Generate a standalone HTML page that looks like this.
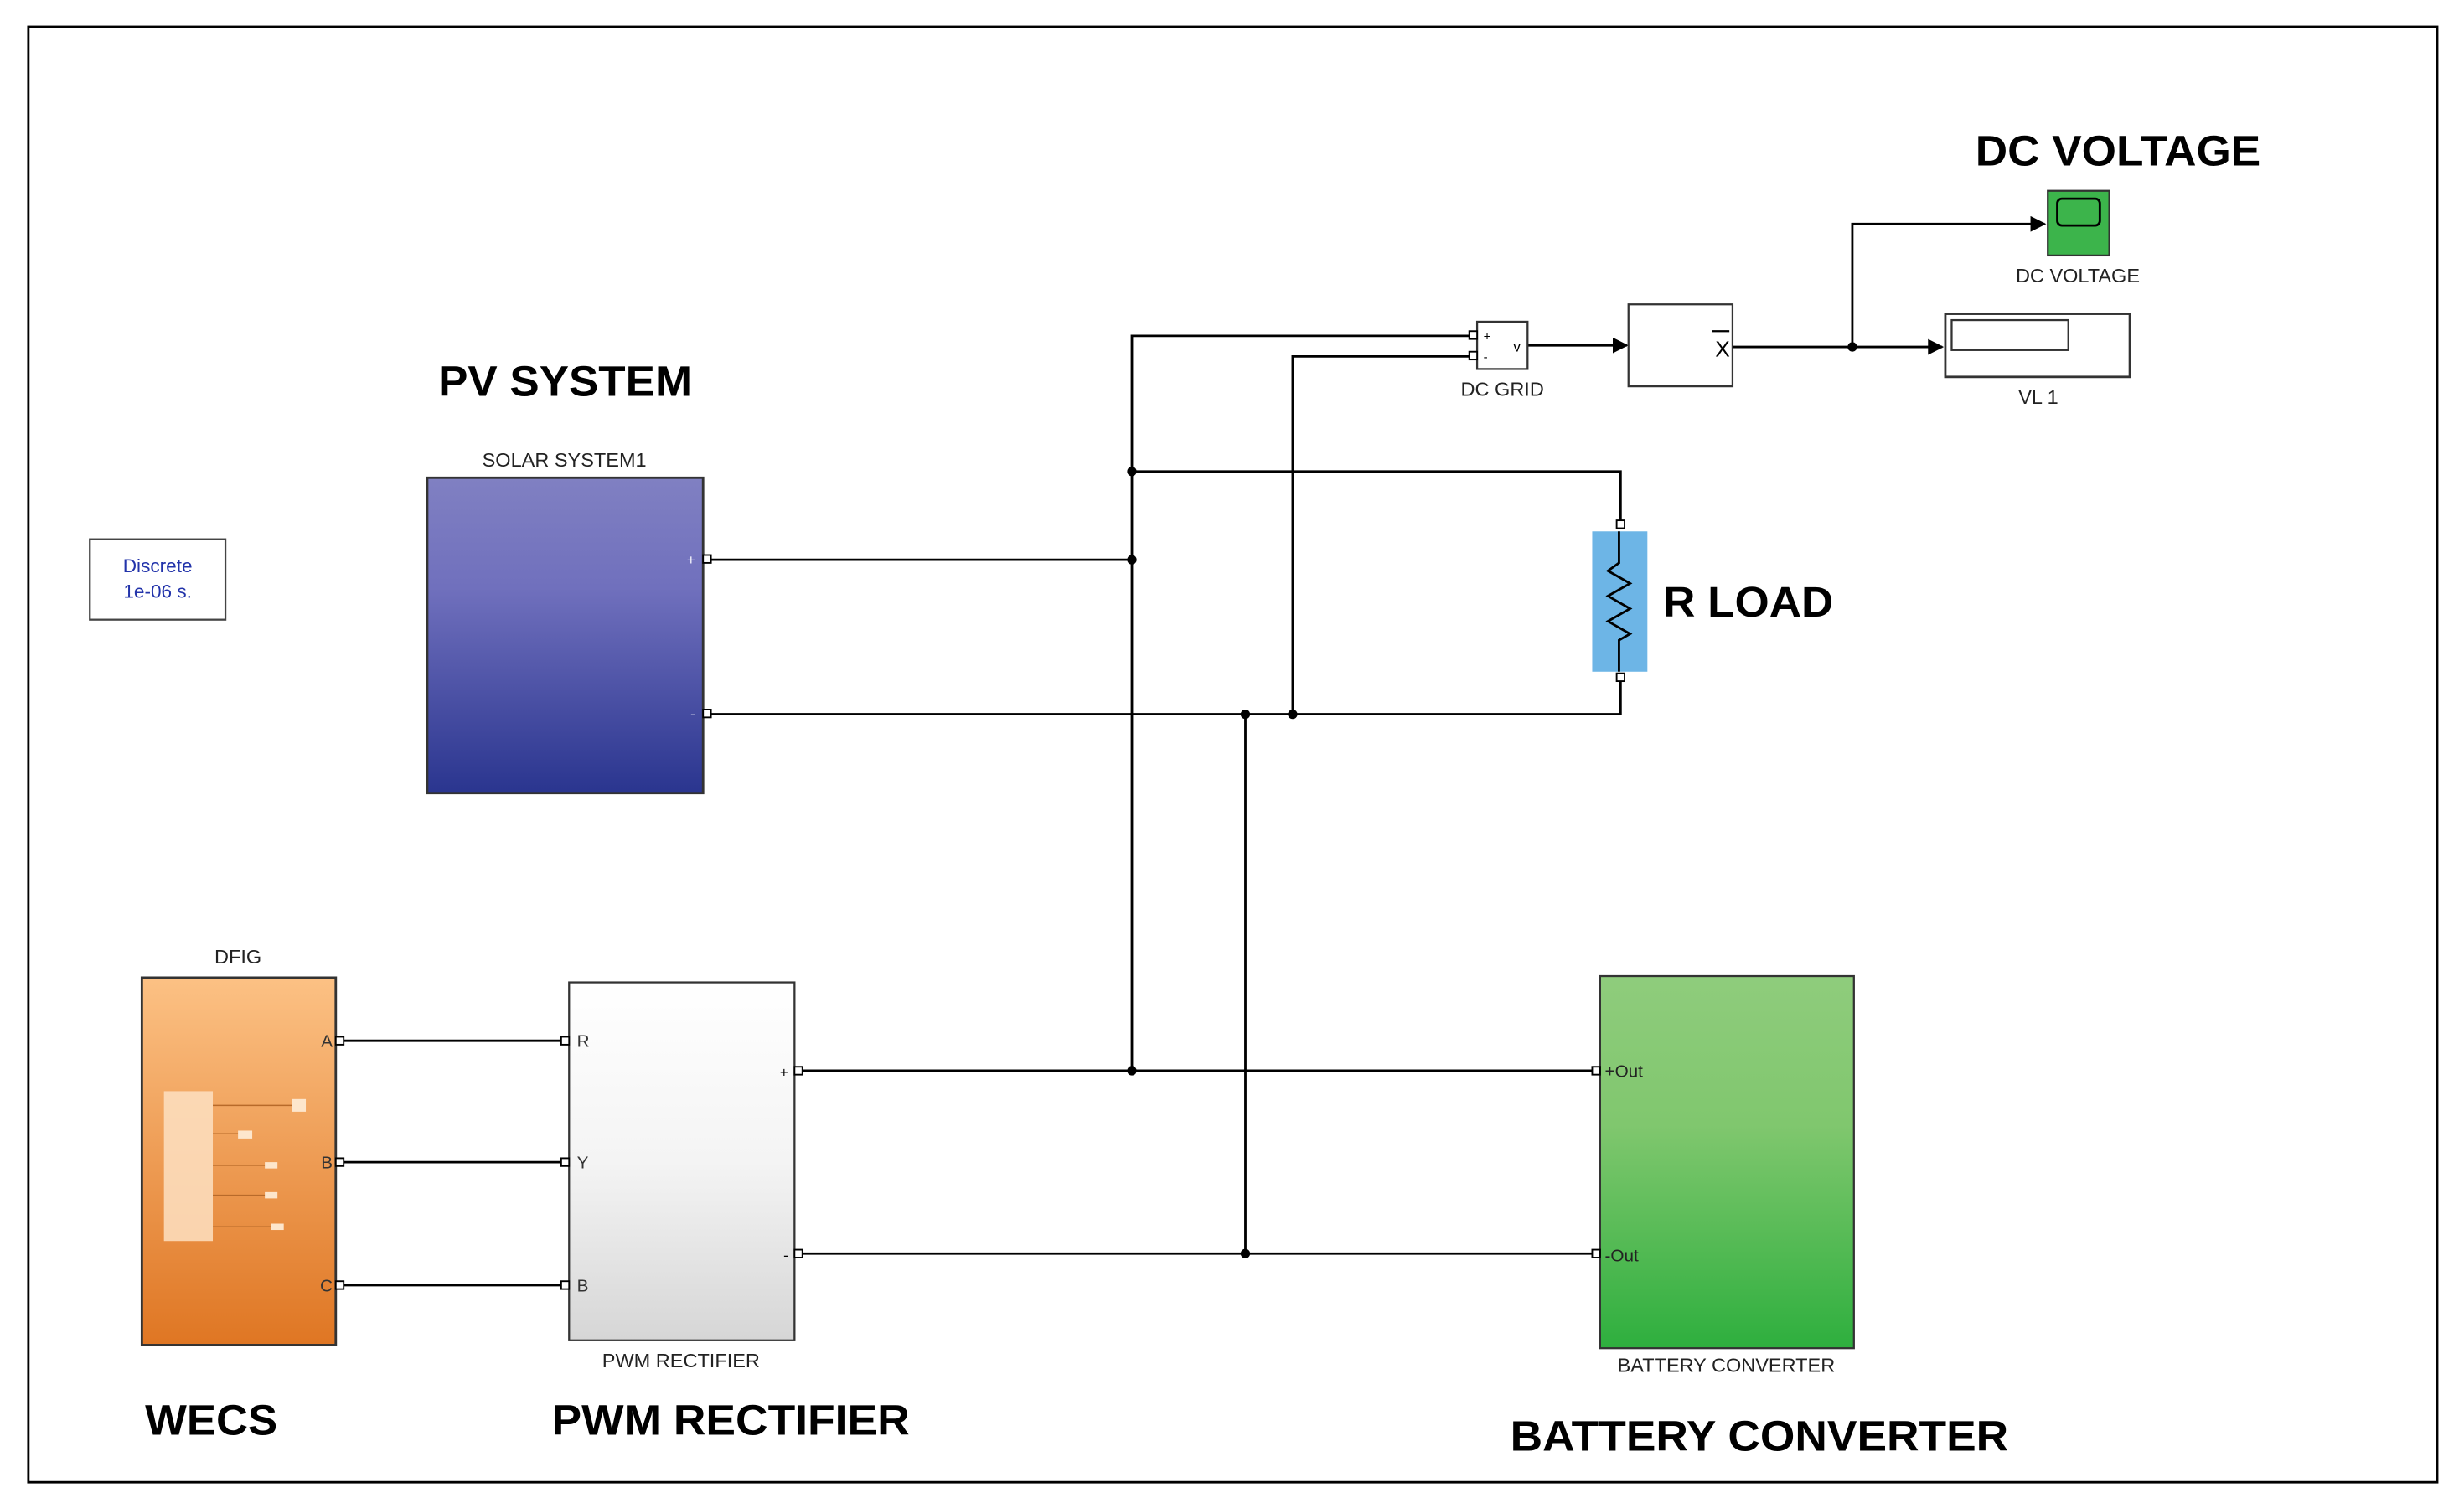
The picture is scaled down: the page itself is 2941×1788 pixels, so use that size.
<!DOCTYPE html>
<html><head><meta charset="utf-8"><style>html,body{margin:0;padding:0;background:#fff}svg{display:block}</style></head>
<body>
<svg xmlns="http://www.w3.org/2000/svg" width="2941" height="1788" viewBox="0 0 1563 950" preserveAspectRatio="none" font-family="Liberation Sans, Arial, sans-serif">
<defs>
<linearGradient id="pv" x1="0" y1="0" x2="0" y2="1"><stop offset="0" stop-color="#8080c2"/><stop offset="0.35" stop-color="#7070bd"/><stop offset="1" stop-color="#2a358f"/></linearGradient>
<linearGradient id="dfig" x1="0" y1="0" x2="0" y2="1"><stop offset="0" stop-color="#fcc184"/><stop offset="1" stop-color="#df7623"/></linearGradient>
<linearGradient id="pwm" x1="0" y1="0" x2="0" y2="1"><stop offset="0" stop-color="#ffffff"/><stop offset="0.5" stop-color="#f4f4f4"/><stop offset="1" stop-color="#d6d6d6"/></linearGradient>
<linearGradient id="bat" x1="0" y1="0" x2="0" y2="1"><stop offset="0" stop-color="#8fcc7c"/><stop offset="0.4" stop-color="#80c76e"/><stop offset="1" stop-color="#2eaf3e"/></linearGradient>
<marker id="ar" markerWidth="10" markerHeight="10" refX="9" refY="5" orient="auto" markerUnits="userSpaceOnUse"><path d="M0,0 L10,5 L0,10 z" fill="#000"/></marker>
</defs>
<rect x="18" y="17" width="1528" height="923" fill="none" stroke="#000" stroke-width="1.5"/>

<rect x="57" y="342" width="86" height="51" fill="#fff" stroke="#444" stroke-width="1.2"/>
<text x="100" y="363" font-size="12" fill="#2233aa" text-anchor="middle">Discrete</text>
<text x="100" y="379" font-size="12" fill="#2233aa" text-anchor="middle">1e-06 s.</text>

<g stroke="#000" stroke-width="1.5" fill="none">
<path d="M450,355 H718"/>
<path d="M450,453 H1028 V430"/>
<path d="M718,679 V213 H937"/>
<path d="M718,299 H1028 V333"/>
<path d="M820,453 V226 H937"/>
<path d="M790,453 V795"/>
<path d="M507,679 H1012"/>
<path d="M507,795 H1012"/>
<path d="M217,660 H358"/><path d="M217,737 H358"/><path d="M217,815 H358"/>
<path d="M969,219 H1032" marker-end="url(#ar)"/>
<path d="M1099,220 H1232" marker-end="url(#ar)"/>
<path d="M1175,220 V142 H1297" marker-end="url(#ar)"/>
</g>
<g fill="#000">
<circle cx="718" cy="299" r="3"/><circle cx="718" cy="355" r="3"/><circle cx="718" cy="679" r="3"/>
<circle cx="790" cy="453" r="3"/><circle cx="820" cy="453" r="3"/><circle cx="790" cy="795" r="3"/>
<circle cx="1175" cy="220" r="3"/>
</g>

<text x="278" y="251" font-size="27" font-weight="bold" textLength="161" lengthAdjust="spacingAndGlyphs">PV SYSTEM</text>
<text x="358" y="296" font-size="12.5" text-anchor="middle" fill="#222">SOLAR SYSTEM1</text>
<rect x="271" y="303" width="175" height="200" fill="url(#pv)" stroke="#333" stroke-width="1.5"/>
<rect x="446" y="352" width="5" height="5" fill="#fff" stroke="#000"/><rect x="446" y="450" width="5" height="5" fill="#fff" stroke="#000"/>
<text x="441" y="358" font-size="9" fill="#fff" text-anchor="end">+</text>
<text x="441" y="456" font-size="9" fill="#fff" text-anchor="end">-</text>

<rect x="1010" y="337" width="35" height="89" fill="#6db5e6"/>
<path d="M1027,337 V357 L1020,362 L1034,370 L1020,378 L1034,386 L1020,394 L1034,402 L1027,406 V426" fill="none" stroke="#000" stroke-width="1.5"/>
<rect x="1025.5" y="330" width="5" height="5" fill="#fff" stroke="#000"/><rect x="1025.5" y="427" width="5" height="5" fill="#fff" stroke="#000"/>
<text x="1055" y="391" font-size="27" font-weight="bold" textLength="108" lengthAdjust="spacingAndGlyphs">R LOAD</text>

<rect x="937" y="204" width="32" height="30" fill="#fff" stroke="#333" stroke-width="1.2"/>
<rect x="932" y="210" width="5" height="5" fill="#fff" stroke="#000"/><rect x="932" y="223" width="5" height="5" fill="#fff" stroke="#000"/>
<text x="941" y="216" font-size="8">+</text><text x="941" y="229" font-size="8">-</text>
<text x="960" y="223" font-size="9">v</text>
<text x="953" y="251" font-size="12.5" text-anchor="middle" fill="#222">DC GRID</text>

<rect x="1033" y="193" width="66" height="52" fill="#fff" stroke="#333" stroke-width="1.2"/>
<text x="1088" y="226" font-size="14">X</text><path d="M1086,210 H1097" stroke="#000" stroke-width="1.2"/>

<text x="1253" y="105" font-size="27" font-weight="bold" textLength="181" lengthAdjust="spacingAndGlyphs">DC VOLTAGE</text>
<rect x="1299" y="121" width="39" height="41" fill="#3cb44b" stroke="#333" stroke-width="1.2"/>
<rect x="1305" y="126" width="27" height="17" rx="3" fill="#3cb44b" stroke="#000" stroke-width="1.5"/>
<text x="1318" y="179" font-size="12.5" text-anchor="middle" fill="#222">DC VOLTAGE</text>

<rect x="1234" y="199" width="117" height="40" fill="#fff" stroke="#333" stroke-width="1.5"/>
<rect x="1238" y="203" width="74" height="19" fill="#fff" stroke="#333" stroke-width="1.2"/>
<text x="1293" y="256" font-size="12.5" text-anchor="middle" fill="#222">VL 1</text>

<text x="151" y="611" font-size="12.5" text-anchor="middle" fill="#222">DFIG</text>
<rect x="90" y="620" width="123" height="233" fill="url(#dfig)" stroke="#333" stroke-width="1.5"/>
<rect x="104" y="692" width="31" height="95" fill="#fde0c2" opacity="0.85"/>
<g stroke="#b86a2a" stroke-width="0.8"><path d="M135,701 H188"/><path d="M135,719 H155"/><path d="M135,739 H170"/><path d="M135,758 H170"/><path d="M135,778 H175"/></g>
<g fill="#fde6cc"><rect x="185" y="697" width="9" height="8"/><rect x="151" y="717" width="9" height="5"/><rect x="168" y="737" width="8" height="4"/><rect x="168" y="756" width="8" height="4"/><rect x="172" y="776" width="8" height="4"/></g>
<g fill="#fff" stroke="#000"><rect x="213" y="657.5" width="5" height="5"/><rect x="213" y="734.5" width="5" height="5"/><rect x="213" y="812.5" width="5" height="5"/></g>
<g font-size="11" fill="#333" text-anchor="end"><text x="211" y="664">A</text><text x="211" y="741">B</text><text x="211" y="819">C</text></g>

<rect x="361" y="623" width="143" height="227" fill="url(#pwm)" stroke="#333" stroke-width="1.2"/>
<g fill="#fff" stroke="#000"><rect x="356" y="657.5" width="5" height="5"/><rect x="356" y="734.5" width="5" height="5"/><rect x="356" y="812.5" width="5" height="5"/><rect x="504" y="676.5" width="5" height="5"/><rect x="504" y="792.5" width="5" height="5"/></g>
<g font-size="11" fill="#333"><text x="366" y="664">R</text><text x="366" y="741">Y</text><text x="366" y="819">B</text></g>
<text x="500" y="683" font-size="9" text-anchor="end">+</text><text x="500" y="799" font-size="9" text-anchor="end">-</text>
<text x="432" y="867" font-size="12.5" text-anchor="middle" fill="#222">PWM RECTIFIER</text>

<rect x="1015" y="619" width="161" height="236" fill="url(#bat)" stroke="#333" stroke-width="1.2"/>
<g fill="#fff" stroke="#000"><rect x="1010" y="676.5" width="5" height="5"/><rect x="1010" y="792.5" width="5" height="5"/></g>
<g font-size="11" fill="#222"><text x="1018" y="683">+Out</text><text x="1018" y="800">-Out</text></g>
<text x="1095" y="870" font-size="12.5" text-anchor="middle" fill="#222">BATTERY CONVERTER</text>

<text x="92" y="910" font-size="27" font-weight="bold" textLength="84" lengthAdjust="spacingAndGlyphs">WECS</text>
<text x="350" y="910" font-size="27" font-weight="bold" textLength="227" lengthAdjust="spacingAndGlyphs">PWM RECTIFIER</text>
<text x="958" y="920" font-size="27" font-weight="bold" textLength="316" lengthAdjust="spacingAndGlyphs">BATTERY CONVERTER</text>
</svg>
</body></html>
